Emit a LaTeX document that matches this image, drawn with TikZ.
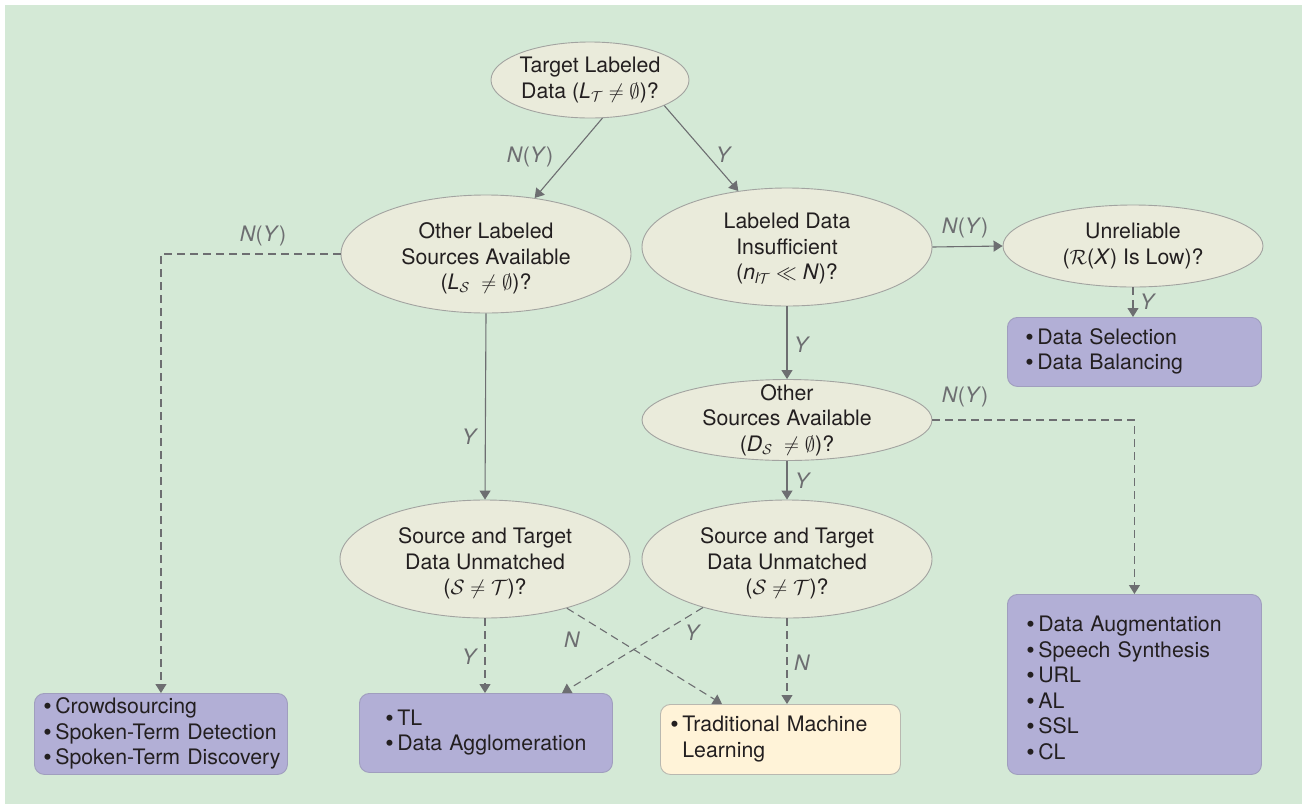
\documentclass[tikz,border=0pt]{standalone}
\usepackage{amsmath}
\usepackage{fontspec}
\setmainfont{TeX Gyre Heros}
\usetikzlibrary{arrows.meta,shapes.geometric}

\definecolor{bg}{HTML}{D4E9D6}
\definecolor{ellfill}{HTML}{EAEBDB}
\definecolor{ellline}{HTML}{A2A3A0}
\definecolor{purfill}{HTML}{B2AFD6}
\definecolor{purline}{HTML}{A09EBE}
\definecolor{yelfill}{HTML}{FFF3D8}
\definecolor{yelline}{HTML}{B9B8B0}
\definecolor{arrowgray}{HTML}{6D6E71}
\definecolor{ink}{HTML}{231F20}

% bullet for the outcome lists
\newcommand{\itm}{{\fontsize{24}{25}\selectfont\raisebox{-1pt}{\textbullet}}\hspace{3.5pt}}
% unbreakable left-aligned list
\newcommand{\lst}[1]{\begin{tabular}{@{}l@{}}#1\end{tabular}}
% lower a text block without changing its box
\newcommand{\dropby}[2]{\raisebox{-#1}[\height][\depth]{#2}}

\begin{document}
\begin{tikzpicture}[x=1pt,y=-1pt,
  every node/.style={font=\fontsize{21.3}{25.5}\selectfont, text=ink},
  q/.style={ellipse, draw=ellline, fill=ellfill, line width=0.9pt, inner sep=0pt,
            minimum width=290pt, minimum height=118pt, align=center},
  act/.style={rectangle, rounded corners=10pt, draw=purline, fill=purfill,
              line width=0.9pt, anchor=north west, align=left, inner ysep=0pt},
  lab/.style={text=arrowgray, inner sep=1pt},
  flow/.style={draw=arrowgray, line width=1.1pt, -{Triangle[width=11pt,length=9pt]}},
  dflow/.style={flow, dash pattern=on 8pt off 5pt}]

% canvas
\useasboundingbox (0,0) rectangle (1302,804);
\fill[bg] (5,5) rectangle (1302,804);

% decision nodes
\node[q, minimum width=198pt, minimum height=76pt, inner xsep=-26pt, inner ysep=-12pt] (top) at (590,80)
  {Target Labeled\\Data (\textit{L}$_{\mathcal{T}}\neq\emptyset$)?};
\node[q] (ol) at (486,254)
  {\dropby{5pt}{\begin{tabular}{@{}c@{}}Other Labeled\\Sources Available\\(\textit{L}$_{\mathcal{S}}\;\neq\emptyset$)?\end{tabular}}};
\node[q] (ld) at (787,247)
  {\dropby{2pt}{\begin{tabular}{@{}c@{}}Labeled Data\\Insufficient\\(\textit{n}$_{\textit{l}\mathcal{T}}\ll$ \textit{N})?\end{tabular}}};
\node[q, minimum width=260pt, minimum height=82pt, inner ysep=-10pt] (ur) at (1133,246)
  {Unreliable\\($\mathcal{R}$(\textit{X}) Is Low)?};
\node[q, minimum height=81pt, inner ysep=-16pt] (os) at (787,420)
  {Other\\Sources Available\\(\textit{D}$_{\mathcal{S}}\;\neq\emptyset$)?};
\node[q] (stl) at (485,559)
  {\dropby{5pt}{\begin{tabular}{@{}c@{}}Source and Target\\Data Unmatched\\($\mathcal{S}\neq\mathcal{T}$)?\end{tabular}}};
\node[q] (str) at (787,559)
  {\dropby{5pt}{\begin{tabular}{@{}c@{}}Source and Target\\Data Unmatched\\($\mathcal{S}\neq\mathcal{T}$)?\end{tabular}}};

% outcome boxes
\node[act, minimum height=69pt, inner xsep=18pt, text width=218pt] (ds) at (1007,317)
  {\lst{\itm Data Selection\\\itm Data Balancing}};
\node[act, minimum height=180pt, inner xsep=19pt, text width=216pt] (da) at (1007,594)
  {\dropby{6pt}{\lst{\itm Data Augmentation\\\itm Speech Synthesis\\\itm URL\\%
   \itm AL\\\itm SSL\\\itm CL}}};
\node[act, minimum height=81pt, inner xsep=9pt, text width=235pt] (cs) at (34,693)
  {\lst{\itm Crowdsourcing\\\itm Spoken-Term Detection\\\itm Spoken-Term Discovery}};
\node[act, minimum height=79pt, inner xsep=26pt, text width=201pt] (tl) at (359,693)
  {\lst{\itm TL\\\itm Data Agglomeration}};
\node[act, draw=yelline, fill=yelfill, minimum height=70pt, inner xsep=10pt, text width=220pt] (tm) at (660,704)
  {\lst{\itm Traditional Machine\\\hphantom{\itm}Learning}};

% connectors
\draw[flow] (top.-72) -- (ol.49);
\draw[flow] (top.-19) -- (ld.131);
\draw[flow] (ld.east) -- (ur.west);
\draw[dflow] (ur.south) -- (ds.north -| ur.south);
\draw[flow] (ld.south) -- (os.north);
\draw[dflow] (os.east) -| (da.north);
\draw[flow] (os.south) -- (str.north);
\draw[flow] (ol.south) -- (stl.north);
\draw[dflow] (ol.west) -| (cs.north);
\draw[dflow] (stl.south) -- (tl.north -| stl.south);
\draw[dflow] (stl.-31) -- ([xshift=62pt]tm.north west);
\draw[dflow] (str.210) -- ([xshift=203pt]tl.north west);
\draw[dflow] (str.south) -- (tm.north -| str.south);

% branch labels
\node[lab] (l1) at (530,157) {\textit{N}(\textit{Y})};
\node[lab] (l2) at (724,155) {\textit{Y}};
\node[lab] (l3) at (965,228) {\textit{N}(\textit{Y})};
\node[lab] (l4) at (1148,302) {\textit{Y}};
\node[lab] (l5) at (263,236) {\textit{N}(\textit{Y})};
\node[lab] (l6) at (470,437) {\textit{Y}};
\node[lab] (l7) at (802,345) {\textit{Y}};
\node[lab] (l8) at (965,397) {\textit{N}(\textit{Y})};
\node[lab] (l9) at (803,481) {\textit{Y}};
\node[lab] (l10) at (470,657) {\textit{Y}};
\node[lab] (l11) at (572,640) {\textit{N}};
\node[lab] (l12) at (693,633) {\textit{Y}};
\node[lab] (l13) at (802,663) {\textit{N}};
\end{tikzpicture}
\end{document}
